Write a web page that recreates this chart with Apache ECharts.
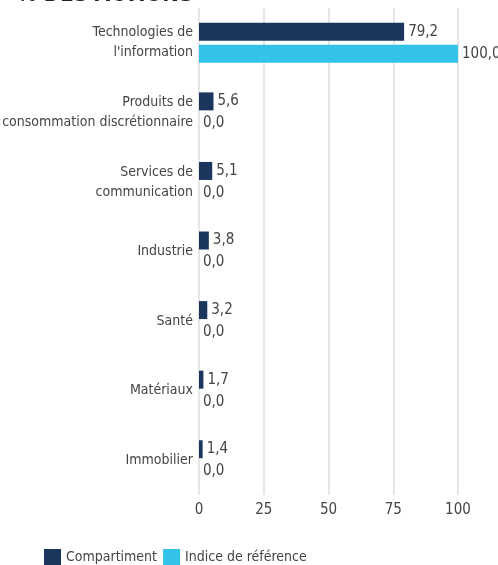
<!DOCTYPE html>
<html>
<head>
<meta charset="utf-8">
<script src="https://cdn.jsdelivr.net/npm/echarts@6/dist/echarts.min.js"></script>
<style>
  html, body { margin: 0; padding: 0; background: #fff; }
  #chart { width: 498px; height: 565px; }
</style>
</head>
<body>
<div id="chart"></div>
<script>
// secteurs (du haut vers le bas)
const secteurs = [
  "Technologies de\nl'information",
  'Produits de\nconsommation discrétionnaire',
  'Services de\ncommunication',
  'Industrie',
  'Santé',
  'Matériaux',
  'Immobilier'
];
const compartiment = [79.2, 5.6, 5.1, 3.8, 3.2, 1.7, 1.4];
const indice = [100.0, 0.0, 0.0, 0.0, 0.0, 0.0, 0.0];
const ticks = [0, 25, 50, 75, 100];

const police = '"Liberation Sans Narrow", "DejaVu Sans Condensed", "Roboto", sans-serif';
const fmt = p => p.value.toFixed(1).replace('.', ',');

const chart = echarts.init(document.getElementById('chart'));
chart.setOption({
  animation: false,
  textStyle: { fontFamily: police },
  title: {
    text: '% DES ACTIONS',
    left: 12,
    top: -21,
    textStyle: { fontSize: 22, fontWeight: 'bold', color: '#222', fontFamily: police }
  },
  legend: {
    left: 39,
    top: 544,
    itemWidth: 17,
    itemHeight: 17,
    itemGap: 6,
    icon: 'rect',
    textStyle: { fontSize: 14, color: '#444' },
    data: ['Compartiment', 'Indice de référence']
  },
  grid: { left: 199, right: 40, top: 8, bottom: 70, containLabel: false, outerBoundsMode: 'none' },
  xAxis: {
    type: 'value',
    min: ticks[0],
    max: ticks[ticks.length - 1],
    interval: 25,
    axisLine: { show: false },
    axisTick: { show: false },
    axisLabel: { fontSize: 15, color: '#444', margin: 8 },
    splitLine: { show: true, lineStyle: { color: '#e6e6e6', width: 2 } }
  },
  yAxis: {
    type: 'category',
    inverse: true,
    data: secteurs,
    axisLine: { show: false },
    axisTick: { show: false },
    axisLabel: { fontSize: 14, color: '#444', lineHeight: 20, margin: 6 }
  },
  series: [
    {
      name: 'Compartiment',
      type: 'bar',
      data: compartiment,
      barWidth: 18,
      barGap: '22%',
      itemStyle: { color: '#1b365d' },
      label: { show: true, position: 'right', distance: 4, fontSize: 15, color: '#444', formatter: fmt }
    },
    {
      name: 'Indice de référence',
      type: 'bar',
      data: indice,
      barWidth: 18,
      itemStyle: { color: '#34c3e8' },
      label: { show: true, position: 'right', distance: 4, fontSize: 15, color: '#444', formatter: fmt }
    }
  ]
});
</script>
</body>
</html>
